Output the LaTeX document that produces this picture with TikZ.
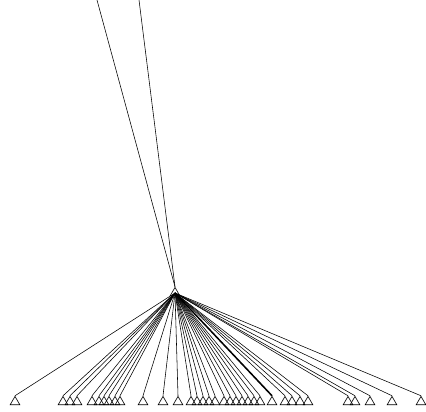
\documentclass[tikz,border=0pt]{standalone}
\usetikzlibrary{shapes.geometric}

\begin{document}
\begin{tikzpicture}[
  x=0.025cm, y=-0.025cm,
  leaf/.style={draw, regular polygon, regular polygon sides=3, minimum size=0.28cm, inner sep=0pt, line width=0.45pt},
  edge/.style={line width=0.4pt},
  heavy/.style={line width=1.1pt}
]
  \useasboundingbox (0,0) rectangle (426,412);

  % incoming from above
  \coordinate (up1) at (97,0);
  \coordinate (up2) at (139,0);
  \node[leaf] (hub) at (175,293) {};

  % leaves
  \node[leaf] (l1) at (15,402) {};
  \node[leaf] (l2) at (63,402) {};
  \node[leaf] (l3) at (70,402) {};
  \node[leaf] (l4) at (77,402) {};
  \node[leaf] (l5) at (92,402) {};
  \node[leaf] (l6) at (99,402) {};
  \node[leaf] (l7) at (104,402) {};
  \node[leaf] (l8) at (109,402) {};
  \node[leaf] (l9) at (115,402) {};
  \node[leaf] (l10) at (120,402) {};
  \node[leaf] (l11) at (143,402) {};
  \node[leaf] (l12) at (163,402) {};
  \node[leaf] (l13) at (178,402) {};
  \node[leaf] (l14) at (191,402) {};
  \node[leaf] (l15) at (197,402) {};
  \node[leaf] (l16) at (203,402) {};
  \node[leaf] (l17) at (209,402) {};
  \node[leaf] (l18) at (215,402) {};
  \node[leaf] (l19) at (224,402) {};
  \node[leaf] (l20) at (230,402) {};
  \node[leaf] (l21) at (236,402) {};
  \node[leaf] (l22) at (242,402) {};
  \node[leaf] (l23) at (248,402) {};
  \node[leaf] (l24) at (254,402) {};
  \node[leaf] (l25) at (260,402) {};
  \node[leaf] (l26) at (272,402) {};
  \node[leaf] (l27) at (285,402) {};
  \node[leaf] (l28) at (292,402) {};
  \node[leaf] (l29) at (300,402) {};
  \node[leaf] (l30) at (308,402) {};
  \node[leaf] (l31) at (348,402) {};
  \node[leaf] (l32) at (355,402) {};
  \node[leaf] (l33) at (370,402) {};
  \node[leaf] (l34) at (392,402) {};
  \node[leaf] (l35) at (421,402) {};

  \draw[edge] (up1) -- (hub.corner 1);
  \draw[edge] (up2) -- (hub.corner 1);
  \draw[edge] (hub.center) -- (l1.corner 1);
  \draw[edge] (hub.center) -- (l2.corner 1);
  \draw[edge] (hub.center) -- (l3.corner 1);
  \draw[edge] (hub.center) -- (l4.corner 1);
  \draw[edge] (hub.center) -- (l5.corner 1);
  \draw[edge] (hub.center) -- (l6.corner 1);
  \draw[edge] (hub.center) -- (l7.corner 1);
  \draw[edge] (hub.center) -- (l8.corner 1);
  \draw[edge] (hub.center) -- (l9.corner 1);
  \draw[edge] (hub.center) -- (l10.corner 1);
  \draw[edge] (hub.center) -- (l11.corner 1);
  \draw[edge] (hub.center) -- (l12.corner 1);
  \draw[edge] (hub.center) -- (l13.corner 1);
  \draw[edge] (hub.center) -- (l14.corner 1);
  \draw[edge] (hub.center) -- (l15.corner 1);
  \draw[edge] (hub.center) -- (l16.corner 1);
  \draw[edge] (hub.center) -- (l17.corner 1);
  \draw[edge] (hub.center) -- (l18.corner 1);
  \draw[edge] (hub.center) -- (l19.corner 1);
  \draw[edge] (hub.center) -- (l20.corner 1);
  \draw[edge] (hub.center) -- (l21.corner 1);
  \draw[edge] (hub.center) -- (l22.corner 1);
  \draw[edge] (hub.center) -- (l23.corner 1);
  \draw[edge] (hub.center) -- (l24.corner 1);
  \draw[edge] (hub.center) -- (l25.corner 1);
  \draw[heavy] (hub.center) -- (l26.corner 1);
  \draw[edge] (hub.center) -- (l27.corner 1);
  \draw[edge] (hub.center) -- (l28.corner 1);
  \draw[edge] (hub.center) -- (l29.corner 1);
  \draw[edge] (hub.center) -- (l30.corner 1);
  \draw[edge] (hub.center) -- (l31.corner 1);
  \draw[edge] (hub.center) -- (l32.corner 1);
  \draw[edge] (hub.center) -- (l33.corner 1);
  \draw[edge] (hub.center) -- (l34.corner 1);
  \draw[edge] (hub.center) -- (l35.corner 1);
\end{tikzpicture}
\end{document}
